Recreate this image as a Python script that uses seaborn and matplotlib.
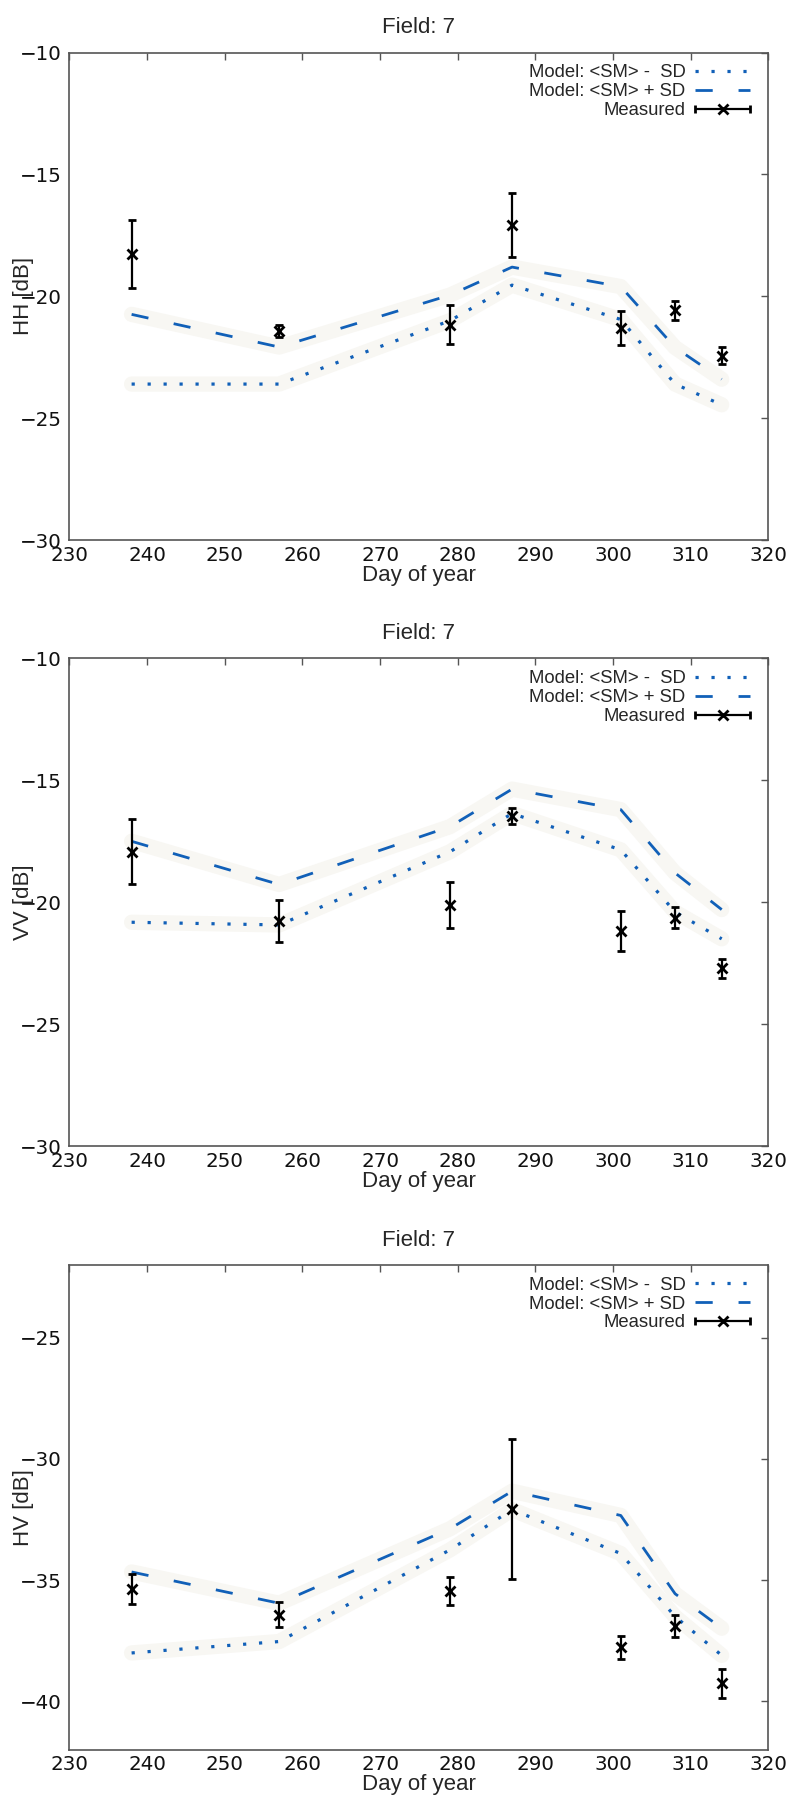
import numpy as np
import pandas as pd
import matplotlib
matplotlib.use("Agg")
import matplotlib.pyplot as plt
import seaborn as sns
from matplotlib.legend_handler import HandlerErrorbar
from matplotlib.container import ErrorbarContainer

# data
days = [238, 257, 279, 287, 301, 308, 314]

hh_meas = [-18.25, -21.43, -21.17, -17.07, -21.29, -20.58, -22.43]
hh_err = [1.40, 0.25, 0.80, 1.33, 0.70, 0.40, 0.35]
hh_plus = [-20.74, -22.08, -19.95, -18.80, -19.60, -22.10, -23.40]
hh_minus = [-23.60, -23.60, -21.00, -19.54, -20.95, -23.60, -24.45]

vv_meas = [-17.93, -20.77, -20.11, -16.47, -21.17, -20.63, -22.71]
vv_err = [1.33, 0.85, 0.93, 0.33, 0.82, 0.42, 0.38]
vv_plus = [-17.50, -19.27, -16.90, -15.36, -16.20, -18.80, -20.30]
vv_minus = [-20.82, -20.93, -17.93, -16.36, -17.85, -20.40, -21.50]

hv_meas = [-35.37, -36.42, -35.43, -32.06, -37.76, -36.90, -39.26]
hv_err = [0.63, 0.53, 0.58, 2.87, 0.47, 0.45, 0.60]
hv_plus = [-34.66, -35.95, -32.88, -31.33, -32.33, -35.56, -36.98]
hv_minus = [-38.00, -37.53, -33.75, -32.09, -33.90, -36.50, -38.10]

ylabels = ["HH [dB]", "VV [dB]", "HV [dB]"]
ylims = [(-30, -10), (-30, -10), (-42, -22)]
yticks = [np.arange(-30, -9, 5), np.arange(-30, -9, 5), np.arange(-40, -24, 5)]
xticks = np.arange(230, 321, 10)

panels = [
    (hh_meas, hh_err, hh_plus, hh_minus),
    (vv_meas, vv_err, vv_plus, vv_minus),
    (hv_meas, hv_err, hv_plus, hv_minus),
]

sns.set_style("white")
plt.rcParams["font.family"] = ["DejaVu Sans"]
plt.rcParams["axes.edgecolor"] = "#555555"
txt_font = "Liberation Sans"

blue = "#1160b8"
halo = "#f8f7f3"
fig = plt.figure(figsize=(7.95, 18.02), dpi=100)
rects = [
    [0.0874, 0.7003, 0.879, 0.2705],
    [0.0874, 0.3640, 0.879, 0.2706],
    [0.0874, 0.0289, 0.879, 0.2691],
]

for i, (meas, err, plus, minus) in enumerate(panels):
    ax = fig.add_axes(rects[i])
    df = pd.DataFrame({"day": days, "meas": meas, "err": err,
                       "plus": plus, "minus": minus})

    # faint light halo around the model curves, as in the scanned original
    ax.plot(df["day"], df["plus"], color=halo, lw=11, zorder=1)
    ax.plot(df["day"], df["minus"], color=halo, lw=11, zorder=1)

    sns.lineplot(data=df, x="day", y="minus", ax=ax, color=blue, lw=2.3,
                 linestyle=(0, (1.0, 4.0)), dash_capstyle="butt",
                 label="Model: <SM> -  SD", zorder=3)
    sns.lineplot(data=df, x="day", y="plus", ax=ax, color=blue, lw=2.0,
                 linestyle=(0, (6.2, 9.3)), dash_capstyle="butt",
                 label="Model: <SM> + SD", zorder=3)
    ax.errorbar(df["day"], df["meas"], yerr=df["err"], fmt="x", color="black",
                ms=7, mew=2, elinewidth=1.6, capsize=3, capthick=1.4, zorder=4)
    # legend key only (gnuplot-style horizontal bar)
    key = ax.errorbar([np.nan], [np.nan], xerr=[1], fmt="x", color="black",
                      ms=7, mew=2, elinewidth=1.6, capsize=3, capthick=1.4,
                      label="Measured")

    ax.set_xlim(230, 320)
    ax.set_ylim(*ylims[i])
    ax.set_xticks(xticks)
    ax.set_yticks(yticks[i])
    ax.tick_params(direction="in", length=5, width=1, color="#555555",
                   top=True, right=True, labelsize=14.3, labelcolor="#111111")
    ax.tick_params(axis="x", pad=4)
    ax.tick_params(axis="y", pad=5.5)
    for s in ax.spines.values():
        s.set_linewidth(1.2)

    ax.set_title("Field: 7", fontsize=16, pad=14, family=txt_font)
    ax.set_xlabel("Day of year", fontsize=16, labelpad=0, family=txt_font)
    ax.set_ylabel(ylabels[i], fontsize=16, family=txt_font)
    ax.yaxis.set_label_coords(-0.051, 0.5)

    handles, labels = ax.get_legend_handles_labels()
    ax.legend(handles, labels, loc="upper right", bbox_to_anchor=(0.9834, 0.989),
              frameon=False, markerfirst=False, handlelength=3,
              prop={"family": txt_font, "size": 13.3},
              handletextpad=0.5, labelspacing=0.1, borderaxespad=0, borderpad=0.35,
              handler_map={ErrorbarContainer: HandlerErrorbar(xerr_size=1.5)})

plt.savefig("out.png", dpi=100)
